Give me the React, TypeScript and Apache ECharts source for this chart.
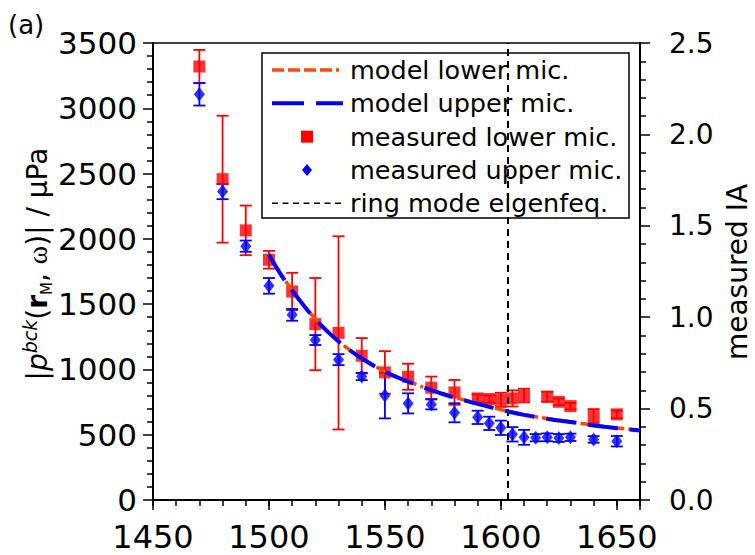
import React, { useEffect, useRef } from 'react';
import * as echarts from 'echarts';

// measured lower microphone
const freqLower = [1470, 1480, 1490, 1500, 1510, 1520, 1530, 1540, 1550, 1560, 1570, 1580, 1590, 1595, 1600, 1605, 1610, 1620, 1625, 1630, 1640, 1650];
const ampLower = [3320, 2457, 2065, 1840, 1597, 1347, 1280, 1105, 977, 944, 860, 824, 778, 773, 767, 778, 800, 791, 752, 719, 643, 656];
const errLower = [127, 486, 190, 68, 143, 353, 740, 135, 163, 100, 85, 95, 30, 28, 54, 62, 52, 38, 25, 25, 53, 30];

// measured upper microphone
const freqUpper = [1470, 1480, 1490, 1500, 1510, 1520, 1530, 1540, 1550, 1560, 1570, 1580, 1590, 1595, 1600, 1605, 1610, 1615, 1620, 1625, 1630, 1640, 1650];
const ampUpper = [3107, 2362, 1944, 1640, 1418, 1225, 1075, 946, 800, 740, 732, 668, 633, 587, 553, 503, 480, 477, 480, 475, 480, 464, 450];
const errUpper = [86, 58, 43, 60, 45, 38, 42, 28, 175, 77, 38, 73, 51, 51, 55, 55, 57, 28, 30, 30, 28, 25, 40];

// model curves
const modelFreq = [1500, 1505, 1510, 1515, 1520, 1525, 1530, 1535, 1540, 1545, 1550, 1555, 1560, 1565, 1570, 1575, 1580, 1585, 1590, 1595, 1600, 1605, 1610, 1615, 1620, 1625, 1630, 1635, 1640, 1645, 1650, 1655, 1660];
const modelLower = [1885, 1735, 1608, 1492, 1388, 1297, 1217, 1147, 1087, 1032, 984, 944, 908, 874, 844, 814, 787, 762, 738, 715, 692, 672, 654, 638, 624, 611, 599, 586, 573, 562, 552, 543, 535];
const modelUpper = [1880, 1730, 1605, 1490, 1385, 1295, 1215, 1145, 1085, 1030, 982, 942, 906, 872, 842, 812, 785, 760, 736, 713, 690, 670, 652, 636, 622, 609, 597, 584, 571, 560, 550, 541, 533];

const ringModeFreq = 1603;

const legendLabels = ['model lower mic.', 'model upper mic.', 'measured lower mic.', 'measured upper mic.', 'ring mode eigenfeq.'];

const FONT = "'DejaVu Sans', 'Liberation Sans', Arial, sans-serif";
const RED = '#ff0000';
const BLUE = '#0000ff';
const ORANGE = '#ff4a00';

function errorBars(xs: number[], ys: number[], es: number[], color: string) {
  return {
    type: 'custom',
    silent: true,
    z: 2,
    data: xs.map((x, i) => [x, ys[i] - es[i], ys[i] + es[i]]),
    encode: { x: 0, y: [1, 2] },
    renderItem: (params: any, api: any) => {
      const x = api.value(0);
      const lo = api.coord([x, api.value(1)]);
      const hi = api.coord([x, api.value(2)]);
      const hw = 6;
      const style = { stroke: color, lineWidth: 1.8 };
      return {
        type: 'group',
        children: [
          { type: 'line', shape: { x1: lo[0], y1: lo[1], x2: hi[0], y2: hi[1] }, style },
          { type: 'line', shape: { x1: lo[0] - hw, y1: lo[1], x2: lo[0] + hw, y2: lo[1] }, style },
          { type: 'line', shape: { x1: hi[0] - hw, y1: hi[1], x2: hi[0] + hw, y2: hi[1] }, style },
        ],
      };
    },
  };
}

export default function App() {
  const ref = useRef<HTMLDivElement>(null);
  useEffect(() => {
    const chart = echarts.init(ref.current!, null, { renderer: 'svg' });
    const axisLine = { show: true, lineStyle: { color: '#000', width: 2 } };
    const labelStyle = { color: '#000', fontSize: 31, fontFamily: FONT };
    const rowY = [70, 103.3, 136.7, 170, 203.3];
    const lx1 = 272, lx2 = 343;
    const option: any = {
      animation: false,
      backgroundColor: '#fff',
      grid: { left: 153, right: 115, top: 43, bottom: 55, show: true, borderColor: '#000', borderWidth: 1.5, backgroundColor: 'transparent' },
      xAxis: [
        {
          type: 'value', min: 1450, max: 1660, interval: 10, position: 'bottom',
          axisLine, axisTick: { show: true, length: 6, lineStyle: { color: '#000', width: 1.5 } },
          axisLabel: { show: false }, splitLine: { show: false },
        },
        {
          type: 'value', min: 1450, max: 1660, interval: 50, position: 'bottom',
          axisLine: { show: false }, axisTick: { show: true, length: 10, lineStyle: { color: '#000', width: 1.5 } },
          axisLabel: { ...labelStyle, fontSize: 32, lineHeight: 32, margin: 21, formatter: (v: number) => (v % 50 === 0 ? String(v) : '') },
          splitLine: { show: false },
        },
      ],
      yAxis: [
        {
          type: 'value', min: 0, max: 3500, interval: 500, position: 'left',
          axisLine, axisTick: { show: true, length: 10, lineStyle: { color: '#000', width: 1.5 } },
          minorTick: { show: true, splitNumber: 5, length: 6, lineStyle: { color: '#000', width: 1.5 } },
          axisLabel: { ...labelStyle, margin: 16, formatter: (v: number) => String(v) }, splitLine: { show: false },
        },
        {
          type: 'value', min: 0, max: 2.5, interval: 0.5, position: 'right',
          axisLine, axisTick: { show: true, length: 10, lineStyle: { color: '#000', width: 1.5 } },
          minorTick: { show: true, splitNumber: 5, length: 6, lineStyle: { color: '#000', width: 1.5 } },
          axisLabel: { ...labelStyle, fontSize: 28, margin: 29, formatter: (v: number) => v.toFixed(1) }, splitLine: { show: false },
        },
      ],
      series: [
        errorBars(freqLower, ampLower, errLower, RED),
        {
          type: 'scatter', name: legendLabels[2], z: 3, symbol: 'rect', symbolSize: 12,
          itemStyle: { color: RED }, data: freqLower.map((x, i) => [x, ampLower[i]]),
        },
        errorBars(freqUpper, ampUpper, errUpper, BLUE),
        {
          type: 'scatter', name: legendLabels[3], z: 3, symbol: 'diamond', symbolSize: [11, 14],
          itemStyle: { color: BLUE }, data: freqUpper.map((x, i) => [x, ampUpper[i]]),
        },
        {
          type: 'line', name: legendLabels[0], z: 4, showSymbol: false, smooth: true, symbol: 'none',
          lineStyle: { color: ORANGE, width: 3.5, type: [12, 4, 12, 4, 12, 4, 12, 4, 3, 4] },
          data: modelFreq.map((x, i) => [x, modelLower[i]]),
        },
        {
          type: 'line', name: legendLabels[1], z: 5, showSymbol: false, smooth: true, symbol: 'none',
          lineStyle: { color: BLUE, width: 4, type: [30, 12] },
          data: modelFreq.map((x, i) => [x, modelUpper[i]]),
        },
        {
          type: 'line', name: legendLabels[4], z: 6, data: [],
          markLine: {
            silent: true, symbol: 'none', label: { show: false },
            lineStyle: { color: '#000', width: 2, type: [7, 5] },
            data: [{ xAxis: ringModeFreq }],
          },
        },
      ],
      graphic: [
        {
          type: 'text', left: 8, top: 12, z: 100,
          style: { text: '(a)', fontSize: 26, fontFamily: FONT, fill: '#000' },
        },
        {
          type: 'text', x: 37, y: 264, rotation: Math.PI / 2, z: 100,
          style: {
            text: '{n||}{i|p}{sup|bck}{n|(}{b|r}{sub|M}{n|, }{w|ω}{n|)| / μPa}',
            align: 'center', verticalAlign: 'middle', fill: '#000',
            rich: {
              n: { fontSize: 28, fontFamily: FONT, lineHeight: 34, fill: '#000' },
              i: { fontSize: 28, fontFamily: FONT, fontStyle: 'italic', lineHeight: 34, fill: '#000' },
              sup: { fontSize: 19, fontFamily: FONT, fontStyle: 'italic', lineHeight: 22, verticalAlign: 'top', fill: '#000' },
              b: { fontSize: 28, fontFamily: FONT, fontWeight: 'bold', lineHeight: 34, fill: '#000' },
              sub: { fontSize: 15, fontFamily: FONT, lineHeight: 16, verticalAlign: 'bottom', fill: '#000' },
              w: { fontSize: 28, fontFamily: "'Liberation Serif', serif", lineHeight: 34, fill: '#000' },
            },
          },
        },
        {
          type: 'text', x: 737, y: 272, rotation: Math.PI / 2, z: 100,
          style: { text: 'measured IA', fontSize: 28, lineHeight: 30, fontFamily: FONT, fill: '#000', align: 'center', verticalAlign: 'middle' },
        },
        {
          type: 'group', z: 100,
          children: [
            { type: 'rect', shape: { x: 262, y: 53, width: 367, height: 165 }, style: { fill: '#fff', stroke: '#000', lineWidth: 1.5 } },
            { type: 'line', shape: { x1: lx1, y1: rowY[0], x2: lx2, y2: rowY[0] }, style: { stroke: ORANGE, lineWidth: 3.5, lineDash: [12, 4, 12, 4, 12, 4, 12, 4, 3, 4] } },
            { type: 'line', shape: { x1: lx1, y1: rowY[1], x2: lx2, y2: rowY[1] }, style: { stroke: BLUE, lineWidth: 4, lineDash: [32, 12] } },
            { type: 'rect', shape: { x: 301, y: rowY[2] - 6, width: 12, height: 12 }, style: { fill: RED } },
            { type: 'polygon', shape: { points: [[307, rowY[3] - 6], [312, rowY[3]], [307, rowY[3] + 6], [302, rowY[3]]] }, style: { fill: BLUE } },
            { type: 'line', shape: { x1: lx1, y1: rowY[4], x2: lx2, y2: rowY[4] }, style: { stroke: '#000', lineWidth: 1.5, lineDash: [6, 4.5] } },
            ...legendLabels.map((t, i) => ({
              type: 'text', x: 350, y: rowY[i],
              style: { text: t, fontSize: 25.5, fontFamily: FONT, fill: '#000', verticalAlign: 'middle' },
            })),
          ],
        },
      ],
    };
    chart.setOption(option);
    return () => chart.dispose();
  }, []);
  return <div ref={ref} style={{ position: 'fixed', left: 0, top: 0, width: 755, height: 555, background: '#fff' }} />;
}
